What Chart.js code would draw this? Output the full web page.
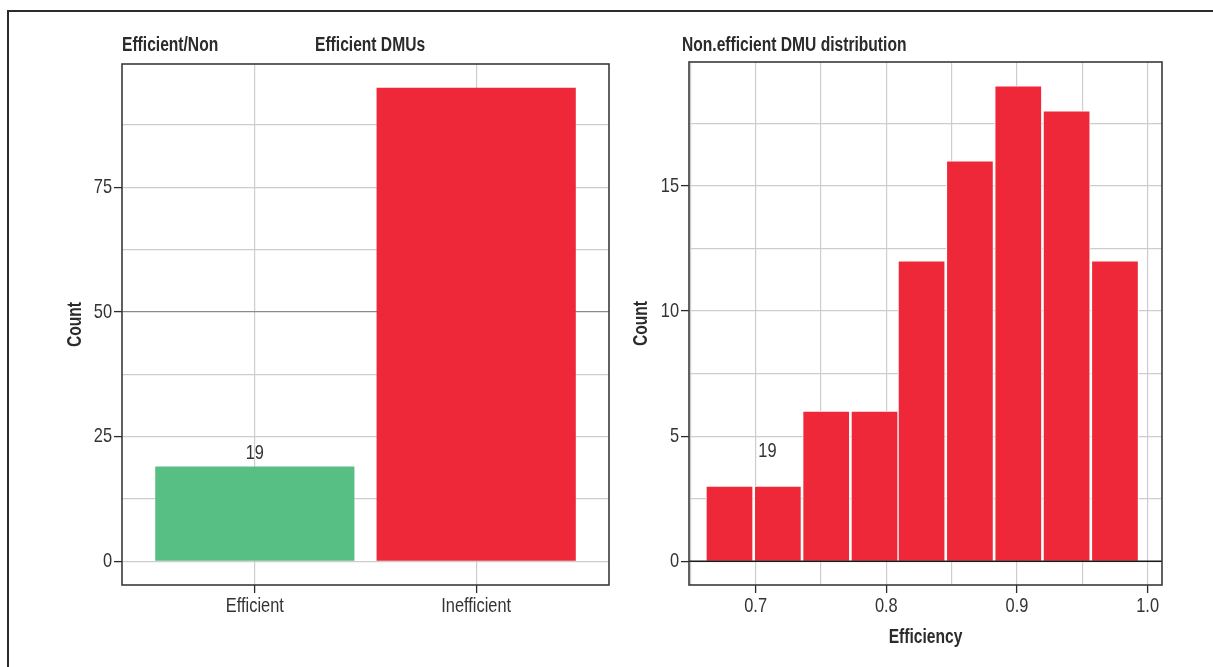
<!DOCTYPE html>
<html>
<head>
<meta charset="utf-8">
<title>Efficient DMUs</title>
<script src="https://cdn.jsdelivr.net/npm/chart.js@4.4.1/dist/chart.umd.min.js"></script>
<style>
  html, body { margin:0; padding:0; background:#fff; overflow:hidden; }
  body { width:1213px; height:667px; position:relative; }
  .frame { position:absolute; left:7px; top:10px; width:1230px; height:690px;
           border-top:2px solid #2b2b2b; border-left:2px solid #2b2b2b; }
  #left { position:absolute; left:0; top:0; }
  #right { position:absolute; left:620px; top:0; }
</style>
</head>
<body>
<div class="frame"></div>
<canvas id="left" width="620" height="667"></canvas>
<canvas id="right" width="593" height="667"></canvas>
<script>
// values
const groups = ['Efficient', 'Inefficient']
const groupCounts = [19, 95]
const groupColors = ['#58bf84', '#ee2839']

const binCenters = [0.680, 0.717, 0.754, 0.791, 0.827, 0.864, 0.901, 0.938, 0.975]
const binCounts = [3, 3, 6, 6, 12, 16, 19, 18, 12]
const histColor = '#ee2839'

const leftYTicks = [0, 25, 50, 75]
const leftYMinor = [12.5, 37.5, 62.5, 87.5]
const rightYTicks = [0, 5, 10, 15]
const rightYMinor = [2.5, 7.5, 12.5, 17.5]
const rightXTicks = [0.7, 0.8, 0.9, 1.0]
const rightXMinor = [0.65, 0.75, 0.85, 0.95]

const FONT = '"Liberation Sans", Arial, sans-serif'
const GRID = '#cdcdcd'
const INK = '#2b2b2b'
const NARROW = 0.78   // the original uses a tall narrow font, squeeze the text a bit

const has = (list, v) => list.some(t => Math.abs(t - v) < 1e-9)
const tickList = (a, b) => a.concat(b).sort((p, q) => p - q).map(v => ({value: v}))

// squeeze all text drawn on a canvas horizontally (still plain fillText)
const narrowText = (canvas, k) => {
  const ctx = canvas.getContext('2d')
  const fill = ctx.fillText.bind(ctx)
  const measure = ctx.measureText.bind(ctx)
  ctx.fillText = (text, x, y) => {
    ctx.save()
    ctx.translate(x, y)
    ctx.scale(k, 1)
    fill(text, 0, 0)
    ctx.restore()
  }
  ctx.measureText = text => {
    const m = measure(text)
    return {width: m.width * k, actualBoundingBoxAscent: m.actualBoundingBoxAscent, actualBoundingBoxDescent: m.actualBoundingBoxDescent}
  }
  return canvas
}

//=============== little plugin: panel box, titles, note, hline ===============
const panel = {
  id: 'panel',
  afterDatasetsDraw(chart, args, opts) {
    const ctx = chart.ctx
    const a = chart.chartArea
    const xs = chart.scales.x, ys = chart.scales.y
    ctx.save()
    if (opts.hline !== undefined) {
      const y = ys.getPixelForValue(opts.hline)
      ctx.strokeStyle = '#1a1a1a'
      ctx.lineWidth = 1.3
      ctx.beginPath(); ctx.moveTo(a.left, y); ctx.lineTo(a.right, y); ctx.stroke()
    }
    ctx.strokeStyle = '#3a3a3a'
    ctx.lineWidth = 1.6
    ctx.strokeRect(a.left, a.top, a.right - a.left, a.bottom - a.top)

    ctx.fillStyle = INK
    ctx.textBaseline = 'middle'
    ctx.textAlign = 'left'
    ctx.font = 'bold 20px ' + FONT
    opts.titles.forEach(t => ctx.fillText(t.text, t.x, 45))

    if (opts.note) {
      const n = opts.note
      ctx.font = '21px ' + FONT
      ctx.textAlign = 'center'
      ctx.fillStyle = '#333'
      ctx.fillText(n.text, xs.getPixelForValue(n.x), ys.getPixelForValue(n.y) + n.dy)
    }
    ctx.restore()
  }
}

const tickFont = {family: FONT, size: 21}
const titleFont = {family: FONT, size: 20, weight: 'bold'}

//=============== LEFT: efficient / inefficient counts ===============
new Chart(narrowText(document.getElementById('left'), NARROW), {
  type: 'bar',
  data: {
    datasets: [{
      data: groups.map((g, i) => ({x: i + 1, y: groupCounts[i]})),
      backgroundColor: groupColors,
      barPercentage: 0.9,
      categoryPercentage: 1
    }]
  },
  options: {
    responsive: false,
    animation: false,
    layout: {padding: {left: 0, top: 64, right: 11, bottom: 0}},
    plugins: {
      legend: {display: false},
      tooltip: {enabled: false},
      panel: {
        titles: [{text: 'Efficient/Non', x: 122}, {text: 'Efficient DMUs', x: 315}],
        note: {text: String(groupCounts[0]), x: 1, y: groupCounts[0], dy: -13}
      }
    },
    scales: {
      x: {
        type: 'linear', min: 0.4, max: 2.6, offset: false,
        afterBuildTicks: s => { s.ticks = groups.map((g, i) => ({value: i + 1})) },
        afterFit: s => { s.height = 82 },
        ticks: {callback: v => groups[v - 1], font: tickFont, color: '#333', padding: 1, maxRotation: 0},
        grid: {offset: false, color: GRID, lineWidth: 1.2, tickColor: INK, tickLength: 8, tickWidth: 1.3},
        border: {display: false}
      },
      y: {
        min: -4.75, max: 99.75,
        afterBuildTicks: s => { s.ticks = tickList(leftYTicks, leftYMinor) },
        afterFit: s => { s.width = 122 },
        ticks: {callback: v => has(leftYTicks, v) ? String(v) : '', font: tickFont, color: '#333', padding: 2},
        grid: {
          color: c => c.tick.value === 50 ? '#8a8a8a' : GRID,
          lineWidth: 1.2,
          tickColor: c => has(leftYTicks, c.tick.value) ? INK : 'rgba(0,0,0,0)',
          tickLength: 8, tickWidth: 1.3
        },
        border: {display: false},
        title: {display: true, text: 'Count', font: titleFont, color: INK, padding: {top: 63, bottom: 0}}
      }
    }
  },
  plugins: [panel]
})

//=============== RIGHT: histogram of the non efficient ones ===============
new Chart(narrowText(document.getElementById('right'), NARROW), {
  type: 'bar',
  data: {
    datasets: [{
      data: binCenters.map((c, i) => ({x: c, y: binCounts[i]})),
      backgroundColor: histColor,
      borderColor: '#ffffff',
      borderWidth: 1,
      borderSkipped: 'start',
      barPercentage: 1,
      categoryPercentage: 1
    }]
  },
  options: {
    responsive: false,
    animation: false,
    layout: {padding: {left: 0, top: 62, right: 51, bottom: 0}},
    plugins: {
      legend: {display: false},
      tooltip: {enabled: false},
      panel: {
        titles: [{text: 'Non.efficient DMU distribution', x: 62}],
        note: {text: '19', x: 0.709, y: 4.4, dy: 0},
        hline: 0
      }
    },
    scales: {
      x: {
        type: 'linear', min: 0.649, max: 1.011, offset: false,
        afterBuildTicks: s => { s.ticks = tickList(rightXTicks, rightXMinor) },
        afterFit: s => { s.height = 82 },
        ticks: {callback: v => has(rightXTicks, v) ? v.toFixed(1) : '', font: tickFont, color: '#333', padding: 1, maxRotation: 0, autoSkip: false},
        grid: {
          offset: false, color: GRID, lineWidth: 1.2,
          tickColor: c => has(rightXTicks, c.tick.value) ? INK : 'rgba(0,0,0,0)',
          tickLength: 8, tickWidth: 1.3
        },
        border: {display: false},
        title: {display: true, text: 'Efficiency', font: titleFont, color: INK, padding: {top: 0, bottom: 18}}
      },
      y: {
        min: -0.95, max: 19.95,
        afterBuildTicks: s => { s.ticks = tickList(rightYTicks, rightYMinor) },
        afterFit: s => { s.width = 69 },
        ticks: {callback: v => has(rightYTicks, v) ? String(v) : '', font: tickFont, color: '#333', padding: 2},
        grid: {
          color: GRID, lineWidth: 1.2,
          tickColor: c => has(rightYTicks, c.tick.value) ? INK : 'rgba(0,0,0,0)',
          tickLength: 8, tickWidth: 1.3
        },
        border: {display: false},
        title: {display: true, text: 'Count', font: titleFont, color: INK, padding: {top: 9, bottom: 0}}
      }
    }
  },
  plugins: [panel]
})
</script>
</body>
</html>
